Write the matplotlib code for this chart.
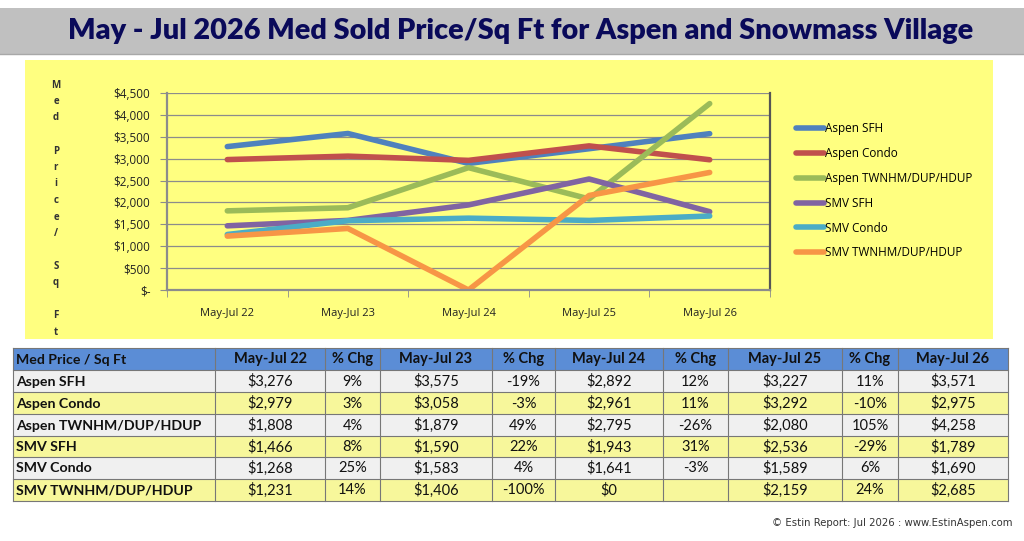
import matplotlib
matplotlib.use('Agg')
import matplotlib.pyplot as plt
from matplotlib.patches import Rectangle
from matplotlib.ticker import FuncFormatter

# data
periods = ["May-Jul 22", "May-Jul 23", "May-Jul 24", "May-Jul 25", "May-Jul 26"]
series_names = ["Aspen SFH", "Aspen Condo", "Aspen TWNHM/DUP/HDUP",
                "SMV SFH", "SMV Condo", "SMV TWNHM/DUP/HDUP"]
aspen_sfh = [3276, 3575, 2892, 3227, 3571]
aspen_condo = [2979, 3058, 2961, 3292, 2975]
aspen_twn = [1808, 1879, 2795, 2080, 4258]
smv_sfh = [1466, 1590, 1943, 2536, 1789]
smv_condo = [1268, 1583, 1641, 1589, 1690]
smv_twn = [1231, 1406, 0, 2159, 2685]
pct_aspen_sfh = ["9%", "-19%", "12%", "11%"]
pct_aspen_condo = ["3%", "-3%", "11%", "-10%"]
pct_aspen_twn = ["4%", "49%", "-26%", "105%"]
pct_smv_sfh = ["8%", "22%", "31%", "-29%"]
pct_smv_condo = ["25%", "4%", "-3%", "6%"]
pct_smv_twn = ["14%", "-100%", "", "24%"]

values = [aspen_sfh, aspen_condo, aspen_twn, smv_sfh, smv_condo, smv_twn]
pcts = [pct_aspen_sfh, pct_aspen_condo, pct_aspen_twn, pct_smv_sfh, pct_smv_condo, pct_smv_twn]
colors = ["#4F81BD", "#C0504D", "#9BBB59", "#8064A2", "#4BACC6", "#F79646"]

W, H = 1024, 541
fig = plt.figure(figsize=(W / 100, H / 100), dpi=100)
fig.patch.set_facecolor('white')

# overlay in pixel coords
bg = fig.add_axes([0, 0, 1, 1], zorder=0)
bg.set_xlim(0, W)
bg.set_ylim(H, 0)
bg.axis('off')

bg.add_patch(Rectangle((0, 8), W, 46, facecolor='#C0C0C0', edgecolor='none'))
bg.plot([0, W], [54, 54], color='#A8A8A8', lw=1)
bg.text(521, 31, "May - Jul 2026 Med Sold Price/Sq Ft for Aspen and Snowmass Village",
        ha='center', va='center', fontsize=20.8, fontweight='heavy',
        color='#0A0A5A', family='Lato')

bg.add_patch(Rectangle((25, 60), 968, 279, facecolor='#FFFF80', edgecolor='none'))

# stacked y-axis label
letters = ["M", "e", "d", "", "P", "r", "i", "c", "e", "/", "", "S", "q", "", "F", "t"]
for i, ch in enumerate(letters):
    bg.text(56, 85 + i * 16.5, ch, ha='center', va='center', fontsize=7,
            fontweight='bold', color='#333333', family='Open Sans')

# chart
ax = fig.add_axes([167 / W, 1 - 290 / H, 603 / W, 197 / H], zorder=2)
ax.set_facecolor('#FFFF80')
x = range(len(periods))
for name, vals, c in zip(series_names, values, colors):
    ax.plot(x, vals, color=c, lw=4, solid_capstyle='round', label=name)
ax.set_xlim(-0.5, len(periods) - 0.5)
ax.set_ylim(0, 4500)
ax.set_yticks(range(0, 4501, 500))
ax.yaxis.set_major_formatter(FuncFormatter(lambda v, p: "$-" if v == 0 else f"${v:,.0f}"))
ax.set_xticks(list(x))
ax.set_xticklabels(periods)
ax.set_xticks([i - 0.5 for i in range(len(periods) + 1)], minor=True)
ax.grid(axis='y', color='#8C8C8C', lw=0.9)
ax.set_axisbelow(True)
ax.tick_params(axis='x', which='major', length=0, pad=13, labelsize=8)
ax.tick_params(axis='x', which='minor', length=5, color='#8C8C8C')
ax.tick_params(axis='y', length=5, color='#8C8C8C', labelsize=8.5, pad=7)
for lbl in ax.get_xticklabels() + ax.get_yticklabels():
    lbl.set_family('Open Sans')
    lbl.set_color('#222222')
for s in ['left', 'bottom', 'right']:
    ax.spines[s].set_color('#8C8C8C')
    ax.spines[s].set_linewidth(1.6)
ax.spines['right'].set_color('#555555')
ax.spines['top'].set_visible(False)

leg = ax.legend(loc='upper left', bbox_to_anchor=(1.025, 0.905), frameon=False,
                handlelength=2.4, handletextpad=0.1, labelspacing=1.0,
                prop={'family': 'Open Sans', 'size': 8.5})

# table
col_edges = [13, 215, 325, 380, 492, 555, 663, 728, 842, 898, 1008]
row_edges = [348, 370, 392, 414, 436, 457, 479, 501]
header = ["Med Price / Sq Ft"]
for i, p in enumerate(periods):
    header.append(p)
    if i < len(periods) - 1:
        header.append("% Chg")

rows = []
for name, vals, pc in zip(series_names, values, pcts):
    r = [name]
    for i, v in enumerate(vals):
        r.append(f"${v:,}")
        if i < len(pc):
            r.append(pc[i])
    rows.append(r)

all_rows = [header] + rows
fills = ['#5B8DD6'] + ['#F0F0F0' if i % 2 == 0 else '#F7F79B' for i in range(len(rows))]
for ri, r in enumerate(all_rows):
    y0, y1 = row_edges[ri], row_edges[ri + 1]
    bg.add_patch(Rectangle((col_edges[0], y0), col_edges[-1] - col_edges[0], y1 - y0,
                           facecolor=fills[ri], edgecolor='none'))
    for ci, txt in enumerate(r):
        x0, x1 = col_edges[ci], col_edges[ci + 1]
        bold = ri == 0 or ci == 0
        if ci == 0:
            bg.text(x0 + 3, (y0 + y1) / 2 + 0.5, txt, ha='left', va='center', fontsize=10.2,
                    fontweight='bold' if bold else 'normal', family='Lato', color='#111111')
        else:
            bg.text((x0 + x1) / 2, (y0 + y1) / 2 + 0.5, txt, ha='center', va='center',
                    fontsize=10.5, fontweight='bold' if bold else 'normal', family='Lato',
                    color='#111111')
for yy in row_edges:
    bg.plot([col_edges[0], col_edges[-1]], [yy, yy], color='#777777', lw=0.8)
for xx in col_edges:
    bg.plot([xx, xx], [row_edges[0], row_edges[-1]], color='#777777', lw=0.8)

bg.text(1012, 523, "\u00a9 Estin Report: Jul 2026 : www.EstinAspen.com", ha='right',
        va='center', fontsize=7.3, color='#333333', family='DejaVu Sans')

fig.savefig('out.png', dpi=100)
